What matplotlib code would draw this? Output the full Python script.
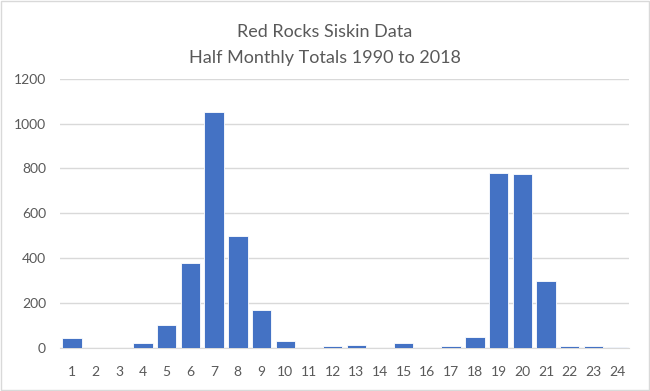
import matplotlib
matplotlib.use("Agg")
import matplotlib.pyplot as plt
import matplotlib.ticker as ticker

# Half-month periods 1..24 and Siskin totals
periods = list(range(1, 25))
totals = [42, 0, 0, 20, 100, 378, 1050, 498, 170, 28, 0, 9,
          13, 0, 19, 0, 9, 49, 779, 773, 297, 9, 9, 5]
yticks = [0, 200, 400, 600, 800, 1000, 1200]

plt.rcParams["font.family"] = ["Lato", "DejaVu Sans"]

fig = plt.figure(figsize=(6.5, 3.91), dpi=100)
ax = fig.add_axes([60 / 650, 1 - 347.7 / 391, 569 / 650, 269 / 391])

ax.bar(periods, totals, width=0.82, color="#4472C4", edgecolor="#ffffff",
       linewidth=0.6, zorder=3)

ax.set_xlim(0.5, 24.5)
ax.set_ylim(0, 1200)
ax.set_yticks(yticks)
ax.set_xticks(periods)
ax.yaxis.set_major_formatter(ticker.FormatStrFormatter("%d"))
ax.grid(axis="y", color="#d9d9d9", linewidth=1, zorder=0)

for side in ["top", "right", "left"]:
    ax.spines[side].set_visible(False)
ax.spines["bottom"].set_color("#d9d9d9")
ax.tick_params(axis="both", length=0, labelsize=10, colors="#595959")
ax.tick_params(axis="x", pad=13)
ax.tick_params(axis="y", pad=10)

fig.text(0.5, 1 - 32 / 391, "Red Rocks Siskin Data", ha="center", va="center",
         fontsize=13, color="#595959")
fig.text(0.5, 1 - 58 / 391, "Half Monthly Totals 1990 to 2018", ha="center",
         va="center", fontsize=13, color="#595959")

# light border around the chart area
fig.patches.append(plt.Rectangle((0.001, 0.002), 0.997, 0.996, transform=fig.transFigure,
                                 fill=False, edgecolor="#d9d9d9", linewidth=1))

fig.savefig("out.png", dpi=100)
